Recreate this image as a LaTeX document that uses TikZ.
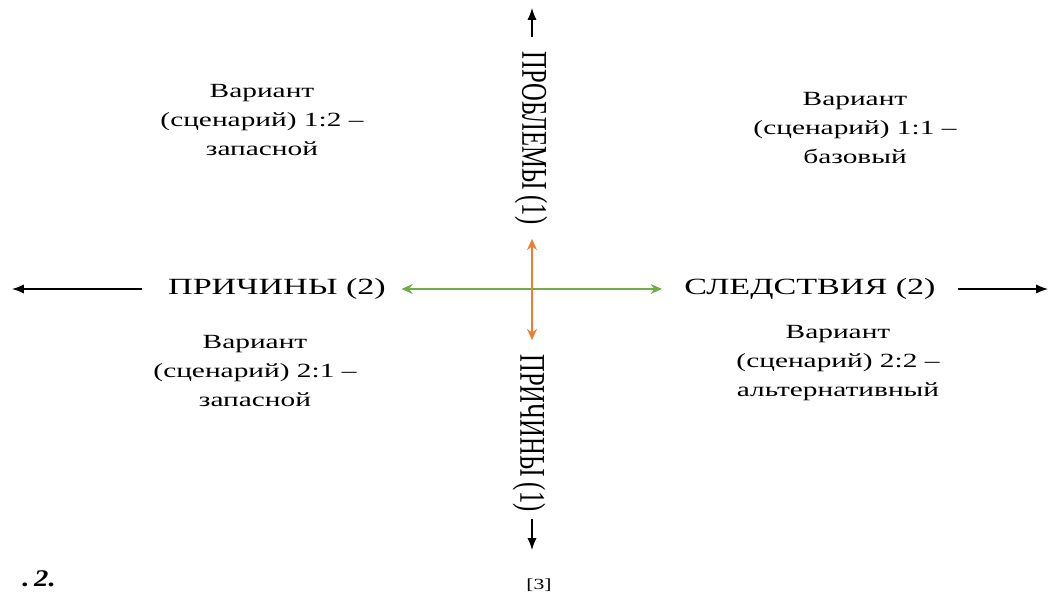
\documentclass[tikz,border=0pt]{standalone}
\usepackage{fontspec}
\setmainfont{Liberation Serif}
\usetikzlibrary{arrows.meta}
\definecolor{axisorange}{RGB}{237, 125, 49}
\definecolor{axisgreen}{RGB}{112, 173, 71}

\begin{document}
\begin{tikzpicture}
  [
    x=0.025cm, y=-0.025cm,
    axis/.style={line width=0.8pt, -{Latex[length=8.5pt, width=6.5pt]}},
    cross/.style={line width=1.3pt, {Stealth[length=8pt, width=7pt]}-{Stealth[length=8pt, width=7pt]}},
    label/.style={font=\fontsize{16.5}{20}\selectfont, xscale=1.47, inner sep=0pt},
    vlabel/.style={label, font=\fontsize{17.5}{20}\selectfont, rotate=-90},
    variant/.style={font=\fontsize{14.3}{20.5}\selectfont, xscale=1.46, align=center, inner sep=0pt}
  ]
  \useasboundingbox (0, 0) rectangle (1053, 601);

  % axis labels
  \node[vlabel] (problems) at (531, 138) {ПРОБЛЕМЫ (1)};
  \node[vlabel] (causesv) at (529, 433) {ПРИЧИНЫ (1)};
  \node[label] (causesh) at (277, 289) {ПРИЧИНЫ (2)};
  \node[label] (effects) at (810, 289) {СЛЕДСТВИЯ (2)};

  % free ends of the outer arrows
  \coordinate (north) at (532, 8);
  \coordinate (south) at (532, 550);
  \coordinate (west) at (12, 289);
  \coordinate (east) at (1048, 289);

  \draw[axis, shorten <=0.35cm] (problems.west -| north) -- (north);
  \draw[axis, shorten <=0.18cm] (causesv.east -| south) -- (south);
  \draw[axis, shorten <=0.65cm] (causesh.west) -- (west);
  \draw[axis, shorten <=0.55cm] (effects.east) -- (east);

  \draw[cross, axisgreen, shorten <=0.38cm, shorten >=0.55cm] (causesh.east) -- (effects.west);
  \draw[cross, axisorange, shorten <=0.35cm, shorten >=0.35cm] (problems.east -| north) -- (causesv.west -| south);

  % quadrants
  \node[variant] (v12) at (262, 120) {Вариант\\(сценарий) 1:2 –\\запасной};
  \node[variant] (v11) at (855, 128) {Вариант\\(сценарий) 1:1 –\\базовый};
  \node[variant] (v21) at (255, 371) {Вариант\\(сценарий) 2:1 –\\запасной};
  \node[variant] (v22) at (838, 363) {Вариант\\(сценарий) 2:2 –\\альтернативный};

  % caption
  \node[font=\fontsize{17}{20}\selectfont\bfseries\itshape, xscale=1.2, inner sep=0pt] (fig) at (39, 579) {.\,2.};
  \node[font=\fontsize{11}{13}\selectfont, xscale=1.4, inner sep=0pt] (ref) at (539, 585) {[3]};
\end{tikzpicture}
\end{document}
